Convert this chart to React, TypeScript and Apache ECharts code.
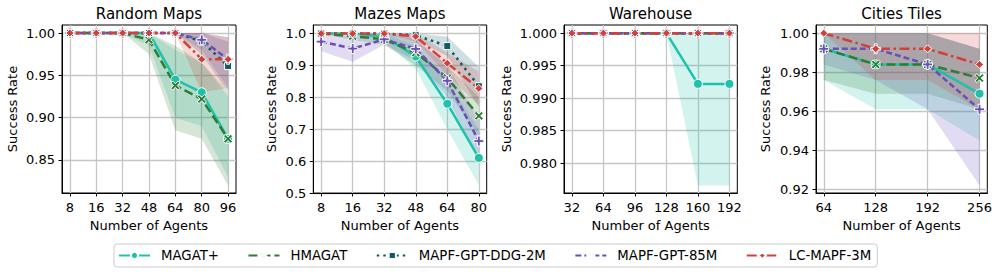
import React, { useEffect, useRef } from 'react';
import * as echarts from 'echarts';

const FONT = "'DejaVu Sans', 'Liberation Sans', sans-serif";

const METHODS = ['MAGAT+', 'HMAGAT', 'MAPF-GPT-DDG-2M', 'MAPF-GPT-85M', 'LC-MAPF-3M'];
const COLORS = ['#1ec2ab', '#2e7d32', '#0e5c63', '#6a4fb8', '#d1403a'];

// ---- Random Maps ----
const randomAgents = ['8', '16', '32', '48', '64', '80', '96'];
const randomTicks = [0.85, 0.9, 0.95, 1.0];
const randomMAGAT = [1, 1, 1, 1, 0.945, 0.93, 0.875];
const randomMAGATLo = [1, 1, 1, 0.985, 0.9, 0.89, 0.83];
const randomMAGATHi = [1, 1, 1, 1, 0.98, 0.965, 0.925];
const randomHMAGAT = [1, 1, 1, 0.992, 0.938, 0.922, 0.875];
const randomHMAGATLo = [1, 1, 1, 0.975, 0.885, 0.875, 0.82];
const randomHMAGATHi = [1, 1, 1, 1, 0.985, 0.965, 0.93];
const randomDDG = [1, 1, 1, 1, 1, 0.99, 0.961];
const randomDDGLo = [1, 1, 1, 1, 1, 0.975, 0.93];
const randomDDGHi = [1, 1, 1, 1, 1, 1, 0.99];
const random85M = [1, 1, 1, 1, 1, 0.992, 0.969];
const random85MLo = [1, 1, 1, 1, 1, 0.98, 0.935];
const random85MHi = [1, 1, 1, 1, 1, 1, 0.995];
const randomLC = [1, 1, 1, 1, 1, 0.969, 0.969];
const randomLCLo = [1, 1, 1, 1, 1, 0.93, 0.935];
const randomLCHi = [1, 1, 1, 1, 1, 1, 0.995];

// ---- Mazes Maps ----
const mazesAgents = ['8', '16', '32', '48', '64', '80'];
const mazesTicks = [0.5, 0.6, 0.7, 0.8, 0.9, 1.0];
const mazesMAGAT = [1, 1, 0.99, 0.928, 0.78, 0.61];
const mazesMAGATLo = [1, 1, 0.975, 0.89, 0.7, 0.524];
const mazesMAGATHi = [1, 1, 1, 0.96, 0.85, 0.7];
const mazesHMAGAT = [1, 0.992, 0.982, 0.94, 0.861, 0.742];
const mazesHMAGATLo = [1, 0.98, 0.965, 0.9, 0.82, 0.68];
const mazesHMAGATHi = [1, 1, 1, 0.98, 0.9, 0.8];
const mazesDDG = [1, 1, 1, 0.995, 0.961, 0.835];
const mazesDDGLo = [1, 1, 1, 0.98, 0.93, 0.77];
const mazesDDGHi = [1, 1, 1, 1, 0.99, 0.895];
const mazes85M = [0.975, 0.953, 0.982, 0.952, 0.852, 0.663];
const mazes85MLo = [0.945, 0.912, 0.965, 0.915, 0.8, 0.6];
const mazes85MHi = [1, 0.99, 1, 0.985, 0.9, 0.73];
const mazesLC = [1, 1, 1, 0.991, 0.907, 0.828];
const mazesLCLo = [1, 1, 1, 0.975, 0.87, 0.775];
const mazesLCHi = [1, 1, 1, 1, 0.94, 0.88];

// ---- Warehouse ----
const whAgents = ['32', '64', '96', '128', '160', '192'];
const whTicks = [0.98, 0.985, 0.99, 0.995, 1.0];
const whMAGAT = [1, 1, 1, 1, 0.9922, 0.9922];
const whMAGATLo = [1, 1, 1, 1, 0.9766, 0.9766];
const whMAGATHi = [1, 1, 1, 1, 1, 1];
const whHMAGAT = [1, 1, 1, 1, 1, 1];
const whDDG = [1, 1, 1, 1, 1, 1];
const wh85M = [1, 1, 1, 1, 1, 1];
const whLC = [1, 1, 1, 1, 1, 1];

// ---- Cities Tiles ----
const citiesAgents = ['64', '128', '192', '256'];
const citiesTicks = [0.92, 0.94, 0.96, 0.98, 1.0];
const citiesMAGAT = [0.992, 0.984, 0.984, 0.969];
const citiesMAGATLo = [0.976, 0.961, 0.961, 0.945];
const citiesMAGATHi = [1, 1, 1, 0.992];
const citiesHMAGAT = [0.992, 0.984, 0.984, 0.977];
const citiesHMAGATLo = [0.976, 0.969, 0.969, 0.961];
const citiesHMAGATHi = [1, 1, 1, 0.992];
const cities85M = [0.992, 0.992, 0.984, 0.961];
const cities85MLo = [0.984, 0.976, 0.961, 0.922];
const cities85MHi = [1, 1, 1, 0.992];
const citiesLC = [1, 0.992, 0.992, 0.984];
const citiesLCLo = [1, 0.976, 0.976, 0.961];
const citiesLCHi = [1, 1, 1, 1];

type Trip = [number[], number[] | null, number[] | null] | null;

const panels: {
  title: string;
  agents: string[];
  ticks: number[];
  dec: number;
  yMin: number;
  yMax: number;
  data: Trip[];
}[] = [
  {
    title: 'Random Maps', agents: randomAgents, ticks: randomTicks, dec: 2, yMin: 0.811, yMax: 1.0095,
    data: [
      [randomMAGAT, randomMAGATLo, randomMAGATHi],
      [randomHMAGAT, randomHMAGATLo, randomHMAGATHi],
      [randomDDG, randomDDGLo, randomDDGHi],
      [random85M, random85MLo, random85MHi],
      [randomLC, randomLCLo, randomLCHi],
    ],
  },
  {
    title: 'Mazes Maps', agents: mazesAgents, ticks: mazesTicks, dec: 1, yMin: 0.5, yMax: 1.027,
    data: [
      [mazesMAGAT, mazesMAGATLo, mazesMAGATHi],
      [mazesHMAGAT, mazesHMAGATLo, mazesHMAGATHi],
      [mazesDDG, mazesDDGLo, mazesDDGHi],
      [mazes85M, mazes85MLo, mazes85MHi],
      [mazesLC, mazesLCLo, mazesLCHi],
    ],
  },
  {
    title: 'Warehouse', agents: whAgents, ticks: whTicks, dec: 3, yMin: 0.97543, yMax: 1.00125,
    data: [
      [whMAGAT, whMAGATLo, whMAGATHi],
      [whHMAGAT, null, null],
      [whDDG, null, null],
      [wh85M, null, null],
      [whLC, null, null],
    ],
  },
  {
    title: 'Cities Tiles', agents: citiesAgents, ticks: citiesTicks, dec: 2, yMin: 0.9181, yMax: 1.0042,
    data: [
      [citiesMAGAT, citiesMAGATLo, citiesMAGATHi],
      [citiesHMAGAT, citiesHMAGATLo, citiesHMAGATHi],
      null,
      [cities85M, cities85MLo, cities85MHi],
      [citiesLC, citiesLCLo, citiesLCHi],
    ],
  },
];

const LAYOUT = [
  { left: 62, width: 174 },
  { left: 313.3, width: 173.4 },
  { left: 564, width: 173.3 },
  { left: 816, width: 171.3 },
];
const TOP = 25;
const HEIGHT = 168;
const Y_NAME_GAP = [43, 35, 51.5, 44.5];

const SYMBOLS = [
  'circle',
  'path://M0,2 L2,0 L5,3 L8,0 L10,2 L7,5 L10,8 L8,10 L5,7 L2,10 L0,8 L3,5 Z',
  'rect',
  'path://M3.6,0 H6.4 V3.6 H10 V6.4 H6.4 V10 H3.6 V6.4 H0 V3.6 H3.6 Z',
  'path://M5,0 L10,5 L5,10 L0,5 Z',
];
const SYMBOL_SIZES = [9, 9, 7, 10, 8];
const DASHES: any[] = ['solid', [9, 4], [2.5, 4], [6, 3], [10, 3.5, 2.5, 3.5]];

function buildOption(): any {
  const grid = LAYOUT.map((l) => ({
    left: l.left,
    top: TOP,
    width: l.width,
    height: HEIGHT,
    show: true,
    borderColor: '#000',
    borderWidth: 1,
    backgroundColor: 'transparent',
    containLabel: false,
    outerBoundsMode: 'none',
  }));

  const xAxis = panels.map((p, i) => {
    const n = p.agents.length;
    const m = 0.05 * (n - 1);
    const idx = p.agents.map((_, k) => k);
    return {
      type: 'value',
      gridIndex: i,
      min: -m,
      max: n - 1 + m,
      axisLine: { show: true, onZero: false, lineStyle: { color: '#000', width: 1 } },
      axisTick: { show: true, customValues: idx, length: 3.5, lineStyle: { color: '#000', width: 1 } },
      axisLabel: {
        customValues: idx,
        formatter: (v: number) => p.agents[Math.round(v)],
        margin: 8,
        fontSize: 13,
        color: '#000',
        fontFamily: FONT,
      },
      splitLine: { show: true, lineStyle: { color: '#c6c6c6', width: 1.3 } },
      name: 'Number of Agents',
      nameLocation: 'middle',
      nameGap: 26,
      nameTextStyle: { fontSize: 13, color: '#000', fontFamily: FONT },
    };
  });

  const yAxis = panels.map((p, i) => ({
    type: 'value',
    gridIndex: i,
    min: p.yMin,
    max: p.yMax,
    axisLine: { show: true, onZero: false, lineStyle: { color: '#000', width: 1 } },
    axisTick: { show: true, customValues: p.ticks, length: 3.5, lineStyle: { color: '#000', width: 1 } },
    axisLabel: {
      customValues: p.ticks,
      formatter: (v: number) => v.toFixed(p.dec),
      margin: 7,
      fontSize: 13,
      color: '#000',
      fontFamily: FONT,
    },
    splitLine: { show: true, lineStyle: { color: '#c6c6c6', width: 1.3 } },
    name: 'Success Rate',
    nameLocation: 'middle',
    nameGap: Y_NAME_GAP[i],
    nameTextStyle: { fontSize: 13, color: '#000', fontFamily: FONT },
  }));

  const series: any[] = [];
  // confidence bands drawn as one polygon per method, through the axes' coordinate system
  panels.forEach((p, i) => {
    p.data.forEach((d, m) => {
      if (!d || !d[1] || !d[2]) return;
      const lo = d[1];
      const hi = d[2];
      series.push({
        type: 'custom',
        name: `${METHODS[m]} band ${i}`,
        xAxisIndex: i,
        yAxisIndex: i,
        data: lo.map((v, k) => [k, v, hi[k]]),
        encode: { x: 0, y: [1, 2] },
        silent: true,
        z: 1,
        renderItem: (params: any, api: any) => {
          if (params.dataIndex !== 0) return null;
          const upper = hi.map((v, k) => api.coord([k, v]));
          const lower = lo.map((v, k) => api.coord([k, v]));
          const pts = upper.concat(lower.reverse());
          return {
            type: 'polygon',
            shape: { points: pts },
            style: { fill: COLORS[m], opacity: 0.2 },
            silent: true,
          };
        },
      });
    });
  });
  // mean lines
  panels.forEach((p, i) => {
    p.data.forEach((d, m) => {
      if (!d) return;
      series.push({
        type: 'line',
        name: METHODS[m],
        xAxisIndex: i,
        yAxisIndex: i,
        data: d[0].map((v, k) => [k, v]),
        symbol: SYMBOLS[m],
        symbolSize: SYMBOL_SIZES[m],
        showSymbol: true,
        lineStyle: { color: COLORS[m], width: 2.5, type: DASHES[m] },
        itemStyle: { color: COLORS[m], borderColor: '#fff', borderWidth: 1 },
        z: 3,
        emphasis: { disabled: true },
      });
    });
  });

  const graphic = panels.map((p, i) => ({
    type: 'text',
    x: LAYOUT[i].left + LAYOUT[i].width / 2,
    y: 13.5,
    silent: true,
    style: {
      text: p.title,
      fontSize: 15,
      fontFamily: FONT,
      fill: '#000',
      align: 'center',
      verticalAlign: 'middle',
      textAlign: 'center',
      textVerticalAlign: 'middle',
    },
  }));

  return {
    animation: false,
    backgroundColor: '#fff',
    textStyle: { fontFamily: FONT },
    grid,
    xAxis,
    yAxis,
    series,
    graphic,
    legend: {
      data: METHODS,
      left: 114,
      top: 244,
      orient: 'horizontal',
      itemWidth: 31,
      itemHeight: 9,
      itemGap: 28.5,
      padding: [5, 6, 5, 4],
      borderColor: '#cccccc',
      borderWidth: 1,
      borderRadius: 3,
      backgroundColor: '#fff',
      selectedMode: false,
      textStyle: { fontSize: 13.3, color: '#000', fontFamily: FONT, padding: [0, 0, 0, 6] },
    },
  };
}

export default function App() {
  const ref = useRef<HTMLDivElement>(null);
  useEffect(() => {
    document.body.style.margin = '0';
    if (!ref.current) return;
    const chart = echarts.init(ref.current, undefined, { renderer: 'svg' });
    chart.setOption(buildOption());
    return () => chart.dispose();
  }, []);
  return (
    <div
      ref={ref}
      style={{ position: 'absolute', left: 0, top: 0, width: 999, height: 277, background: '#fff' }}
    />
  );
}
